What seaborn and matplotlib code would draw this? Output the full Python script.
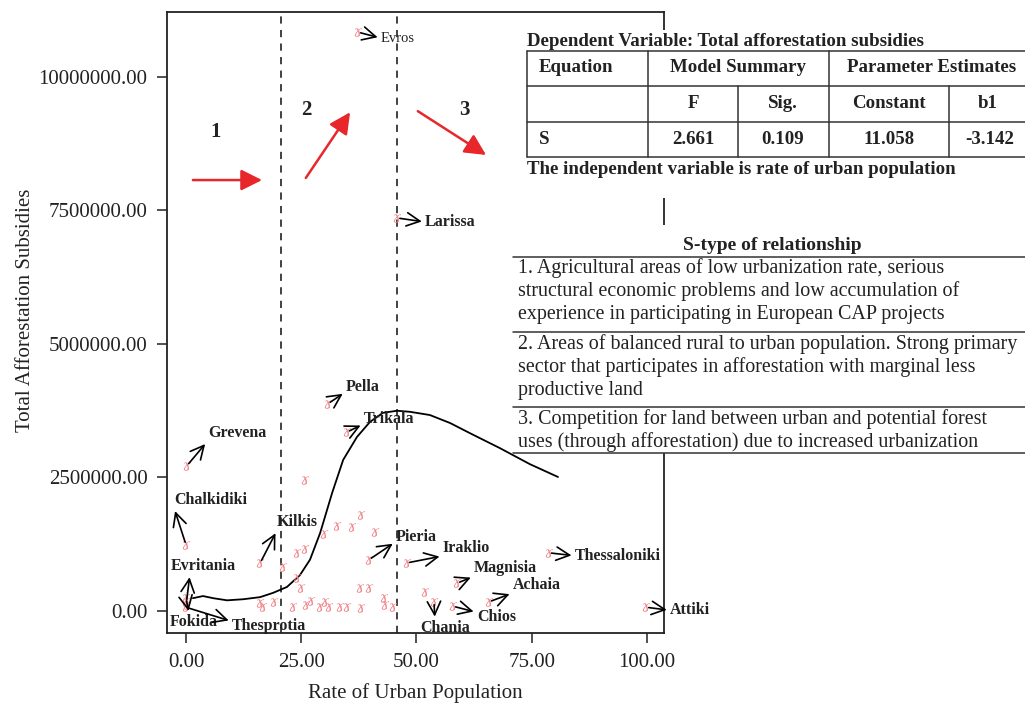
import matplotlib
matplotlib.use('Agg')
import matplotlib.pyplot as plt
import seaborn as sns
import pandas as pd
from matplotlib.lines import Line2D
from matplotlib.patches import Rectangle
from matplotlib.ticker import FuncFormatter

# --- data ---
names = ['Evros', 'Larissa', 'Pella', 'Trikala', 'Grevena', 'Chalkidiki', 'Kilkis',
         'Evritania', 'Fokida', 'Thesprotia', 'Pieria', 'Iraklio', 'Magnisia',
         'Achaia', 'Chios', 'Chania', 'Thessaloniki', 'Attiki']
urban = [37.3, 45.8, 30.8, 34.9, 0.2, 0.0, 16.1,
         0.1, 0.0, 0.0, 39.7, 47.9, 58.8,
         65.7, 57.9, 53.8, 78.7, 99.8]
subsidies = [10840000, 7360000, 3880000, 3350000, 2720000, 1240000, 900000,
             170000, 240000, 70000, 960000, 900000, 520000,
             170000, 90000, 170000, 1090000, 70000]

# unlabelled prefectures
other_urban = [25.8, 38.0, 32.8, 36.0, 41.0, 29.9, 24.1, 25.8, 21.0, 24.1,
               24.9, 37.7, 39.7, 51.8, 43.0, 43.2, 16.1, 16.7, 19.1, 23.2,
               26.0, 27.1, 29.1, 30.2, 31.0, 33.5, 34.9, 38.0, 44.9, 0.2]
other_subsidies = [2450000, 1800000, 1590000, 1570000, 1480000, 1440000, 1090000, 1160000, 820000, 620000,
                   430000, 430000, 430000, 360000, 240000, 110000, 150000, 70000, 170000, 70000,
                   110000, 190000, 70000, 170000, 70000, 70000, 70000, 60000, 70000, 120000]

# fitted S curve (traced)
curve_x = [1.5, 3.7, 5.9, 8.9, 12.4, 16.1, 18.9, 21.9, 24.7, 26.9, 29.1, 31.7,
           34.1, 37.1, 39.9, 42.7, 45.8, 48.6, 52.9, 57.3, 61.6, 68.1, 74.6, 80.7]
curve_y = [240000, 280000, 240000, 200000, 220000, 260000, 340000, 450000, 670000, 960000,
           1460000, 2210000, 2830000, 3260000, 3540000, 3710000, 3750000, 3730000, 3670000,
           3520000, 3330000, 3050000, 2750000, 2510000]

region_bounds = [20.6, 45.8]

fit_header = ['Equation', 'Model Summary', 'Parameter Estimates']
fit_sub = ['', 'F', 'Sig.', 'Constant', 'b1']
fit_row = ['S', '2.661', '0.109', '11.058', '-3.142']

relationship = [
    ['1. Agricultural areas of low urbanization rate, serious',
     'structural economic problems and low accumulation of',
     'experience in participating in European CAP projects'],
    ['2. Areas of balanced rural to urban population. Strong primary',
     'sector that participates in afforestation with marginal less',
     'productive land'],
    ['3. Competition for land between urban and potential forest',
     'uses (through afforestation) due to increased urbanization'],
]

# label placement (pixel offsets from the point) and arrow attachment on the text box
label_off = {
    'Evros': (23, -6, (0, 0.5)), 'Larissa': (28, -4, (0, 0.5)), 'Pella': (18, 17, (0, 0.2)),
    'Trikala': (17, 13, (0, 0.2)), 'Grevena': (21, 33, (0, 0)), 'Chalkidiki': (-12, 45, (0, 0)),
    'Kilkis': (17, 41, (0, 0)), 'Evritania': (-16, 36, (0.3, 0)), 'Fokida': (-16, -24, (0.4, 1)),
    'Thesprotia': (46, -19, (0, 0.8)), 'Pieria': (27, 23, (0, 0.2)), 'Iraklio': (36, 15, (0, 0)),
    'Magnisia': (17, 15, (0, 0)), 'Achaia': (24, 17, (0, 0)), 'Chios': (24, -11, (0, 0.8)),
    'Chania': (-14, -26, (0.3, 1)), 'Thessaloniki': (26, -3, (0, 0.5)), 'Attiki': (24, -3, (0, 0.5)),
}

sns.set_style('ticks')
plt.rcParams['font.family'] = ['Liberation Serif', 'DejaVu Serif']
plt.rcParams['mathtext.fontset'] = 'dejavuserif'

W, H = 1025, 704
fig = plt.figure(figsize=(W / 100, H / 100), dpi=100)
ax = fig.add_axes([167 / W, 1 - 633 / H, (664 - 167) / W, (633 - 12) / H])


def fx(px):
    return px / W


def fy(py):
    return 1 - py / H


pts = pd.DataFrame({'urban': urban + other_urban, 'subsidies': subsidies + other_subsidies})
sns.scatterplot(data=pts, x='urban', y='subsidies', marker='$ɤ$', color='#f08589',
                s=38, linewidth=0, ax=ax, zorder=3)

curve = pd.DataFrame({'x': curve_x, 'y': curve_y})
sns.lineplot(data=curve, x='x', y='y', color='black', lw=1.3, ax=ax, sort=False, zorder=2)

for b in region_bounds:
    ax.axvline(b, color='#333333', lw=1.3, ls=(0, (4, 3.5)), zorder=1)

for n, xv, yv in zip(names, urban, subsidies):
    dx, dy, rp = label_off[n]
    bold = 'normal' if n == 'Evros' else 'bold'
    size = 10.5 if n == 'Evros' else 11.5
    ax.annotate(n, xy=(xv, yv), xytext=(dx * 0.72, dy * 0.72), textcoords='offset points',
                ha='left', va='center', fontsize=size, fontweight=bold, color='#222222',
                annotation_clip=False,
                arrowprops=dict(arrowstyle='<-', color='black', lw=1.2, mutation_scale=24,
                                relpos=rp, shrinkA=0, shrinkB=2))

# red region arrows and numbers
red = '#e8272b'
for (x0, y0), (x1, y1) in [((1.5, 8070000), (16.5, 8070000)),
                           ((26.0, 8110000), (35.6, 9340000)),
                           ((50.3, 9360000), (65.1, 8540000))]:
    ax.annotate('', xy=(x1, y1), xytext=(x0, y0),
                arrowprops=dict(arrowstyle='-|>', color=red, lw=1.8, mutation_scale=32,
                                shrinkA=0, shrinkB=0))
for lbl, xv, yv in [('1', 6.5, 8970000), ('2', 26.2, 9380000), ('3', 60.3, 9380000)]:
    ax.text(xv, yv, lbl, fontsize=15, fontweight='bold', color='#222222', ha='center', va='center')

ax.set_xlim(-4.12, 103.7)
ax.set_ylim(-412000, 11217000)
ax.set_xticks([0, 25, 50, 75, 100])
ax.set_yticks([0, 2500000, 5000000, 7500000, 10000000])
ax.xaxis.set_major_formatter(FuncFormatter(lambda v, _: f'{v:.2f}'))
ax.yaxis.set_major_formatter(FuncFormatter(lambda v, _: f'{v:.2f}'))
ax.tick_params(direction='out', length=7.5, width=1.1, labelsize=15, pad=6.5, colors='#222222')
ax.tick_params(axis='x', pad=7)
for sp in ax.spines.values():
    sp.set_color('#222222')
    sp.set_linewidth(1.3)
ax.set_xlabel('Rate of Urban Population', fontsize=15, color='#222222')
ax.set_ylabel('Total Afforestation Subsidies', fontsize=15, color='#222222')
ax.xaxis.set_label_coords(0.499, -0.08)
ax.yaxis.set_label_coords(-0.265, 0.52)

# --- tables drawn on the figure ---
fig.patches.append(Rectangle((fx(515), fy(198)), fx(W) - fx(515), fy(30) - fy(198),
                             transform=fig.transFigure, facecolor='white', edgecolor='none', zorder=5))
fig.patches.append(Rectangle((fx(513), fy(453)), fx(W) - fx(513), fy(225) - fy(453),
                             transform=fig.transFigure, facecolor='white', edgecolor='none', zorder=5))


def hline(py, x0, x1=W):
    fig.add_artist(Line2D([fx(x0), fx(x1)], [fy(py), fy(py)], transform=fig.transFigure,
                          color='#333333', lw=1.1, zorder=6))


def vline(px, y0, y1):
    fig.add_artist(Line2D([fx(px), fx(px)], [fy(y0), fy(y1)], transform=fig.transFigure,
                          color='#333333', lw=1.1, zorder=6))


def ftext(px, py, s, ha='center', bold=True, size=13.6):
    fig.text(fx(px), fy(py), s, ha=ha, va='center', fontsize=size,
             fontweight='bold' if bold else 'normal', color='#222222', zorder=7)


ftext(527, 41, 'Dependent Variable: Total afforestation subsidies', ha='left')
for py in [51, 86, 122, 157]:
    hline(py, 527)
for px in [527, 648, 829]:
    vline(px, 51, 157)
for px in [738, 949]:
    vline(px, 86, 157)
ftext(539, 68, fit_header[0], ha='left')
ftext(738, 68, fit_header[1])
ftext(932, 68, fit_header[2])
for px, s in zip([693, 783, 889, 988], fit_sub[1:]):
    ftext(px, 104, s)
ftext(539, 139, fit_row[0], ha='left')
for px, s in zip([693, 783, 889, 990], fit_row[1:]):
    ftext(px, 139, s)
ftext(527, 169, 'The independent variable is rate of urban population', ha='left')

ftext(772, 246, 'S-type of relationship', size=14)
for py in [257, 332, 407, 453]:
    hline(py, 513)
starts = [268, 344, 419]
for block, y0 in zip(relationship, starts):
    for i, line in enumerate(block):
        ftext(518, y0 + i * 23.3, line, ha='left', bold=False, size=14.4)

fig.savefig('out.png', dpi=100)
